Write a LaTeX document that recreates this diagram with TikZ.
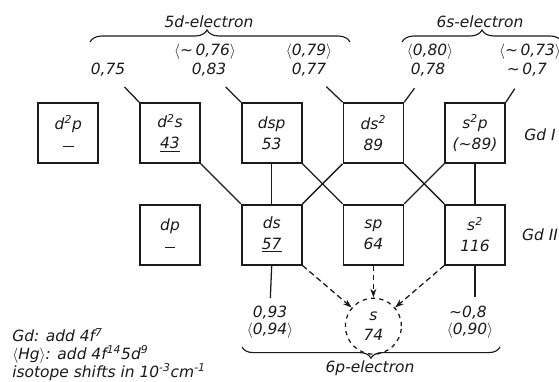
\documentclass[tikz,border=0pt]{standalone}
\usepackage{fontspec}
\setmainfont{DejaVu Sans}
\usetikzlibrary{arrows.meta, positioning, decorations.pathreplacing}
\definecolor{ink}{HTML}{1A1A1A}
\newcommand{\brk}[1]{\ensuremath{\langle}#1\ensuremath{\rangle}}
\newcommand{\til}{\textasciitilde}
\newcommand{\sq}{\textsuperscript{2}}
\newcommand{\nodash}{\rule[0.35ex]{0.26cm}{1pt}}

\begin{document}
\begin{tikzpicture}[
  >={Stealth[length=2.2mm, width=1.5mm]},
  font=\itshape\fontsize{11}{12}\selectfont,
  node distance=1cm,
  box/.style={draw=ink, line width=1.2pt, minimum width=1.5cm, minimum height=1.5cm,
    align=center, inner sep=1pt, text=ink, font=\itshape\fontsize{11}{15}\selectfont},
  circ/.style={draw=ink, circle, dashed, line width=0.9pt, minimum size=1.4cm,
    align=center, inner sep=1pt, text=ink, font=\itshape\fontsize{11}{14}\selectfont},
  val/.style={inner sep=0pt, text=ink},
  conn/.style={draw=ink, line width=0.9pt},
  flow/.style={conn, dash pattern=on 4pt off 2.5pt, ->},
  brc/.style={draw=ink, line width=0.8pt, decorate},
]

\useasboundingbox (0,0) rectangle (13.975,9.525);

% =============================================
% Gd I configurations
% =============================================
\node[box] (d2s) at (4.25,6.2) {d\sq s\\\underline{43}};
\node[box, left=of d2s] (d2p) {d\sq p\\\nodash};
\node[box, right=of d2s] (dsp) {dsp\\53};
\node[box, right=of dsp] (ds2) {ds\sq\\89};
\node[box, right=of ds2] (s2p) {s\sq p\\(\til89)};

% Gd II configurations
\node[box, below=of d2s] (dp) {dp\\\nodash};
\node[box, below=of dsp] (ds) {ds\\\underline{57}};
\node[box, below=of ds2] (sp) {sp\\64};
\node[box, below=of s2p] (s2) {s\sq\\116};

% Hg-like configuration
\node[circ, below=0.8cm of sp] (s) {s\\74};

\node[val] (gd1) at (13.5,6.15) {Gd \textrm{I}};
\node[val] (gd2) at (13.5,3.65) {Gd \textrm{II}};

% =============================================
% Top: values and braces
% =============================================
\node[val] (v075) at (2.7,7.775) {0,75};
\node[val] (v076) at (5.125,8.225) {\brk{\til\,0,76}};
\node[val] (v083) at (5.225,7.775) {0,83};
\node[val] (v079) at (7.725,8.225) {\brk{0,79}};
\node[val] (v077) at (7.725,7.775) {0,77};
\node[val] (v080) at (10.75,8.225) {\brk{0,80}};
\node[val] (v078) at (10.7,7.775) {0,78};
\node[val] (v073) at (13.25,8.225) {\brk{\til\,0,73}};
\node[val] (v07) at (13.175,7.775) {\til\,0,7};

\draw[brc, decoration={brace, amplitude=0.3cm, aspect=0.45}]
  (2.25,8.475) -- (8.75,8.475);
\node[val] (l5d) at (5.225,8.975) {5d-electron};
\draw[brc, decoration={brace, amplitude=0.3cm, aspect=0.5}]
  (10.05,8.475) -- (14.05,8.475);
\node[val] (l6s) at (12.0,8.975) {6s-electron};

\draw[conn, shorten >=0.35cm] (d2s.north west) -- (v075);
\draw[conn, shorten >=0.35cm] (dsp.north west) -- (v083);
\draw[conn, shorten >=0.35cm] (ds2.north west) -- (v077);
\draw[conn, shorten >=0.35cm] (ds2.north east) -- (v078);
\draw[conn, shorten >=0.35cm] (s2p.north east) -- (v07);

% =============================================
% Middle: links between the rows
% =============================================
\draw[conn] (d2s.south east) -- (ds.north west);
\draw[conn] (dsp.south) -- (ds.north);
\draw[conn] (dsp.south east) -- (sp.north west);
\draw[conn] (ds2.south west) -- (ds.north east);
\draw[conn] (ds2.south east) -- (s2.north west);
\draw[conn] (s2p.south west) -- (sp.north east);
\draw[conn] (s2p.south) -- (s2.north);

% =============================================
% Bottom: 6p values, arrows and brace
% =============================================
\node[val] (v093) at (6.75,1.7) {0,93};
\node[val] (v094) at (6.75,1.25) {\brk{0,94}};
\node[val] (v08) at (11.7,1.72) {\til0,8};
\node[val] (v090) at (11.75,1.25) {\brk{0,90}};

\draw[conn, shorten >=0.2cm] (ds.south) -- (v093.north);
\draw[conn, shorten >=0.2cm] (s2.south) -- (v08.north -| s2.south);

\draw[flow] (ds.south east) -- (s);
\draw[flow] (sp.south) -- (s);
\draw[flow] (s2.south west) -- (s);

\draw[brc, decoration={brace, mirror, amplitude=0.28cm, aspect=0.5}]
  (6.05,0.85) -- (12.5,0.85);
\node[val] (l6p) at (9.25,0.325) {6p-electron};

% notes
\node[val, anchor=base west] (gdnote) at (0.3,0.98) {Gd: add 4f\textsuperscript{7}};
\node[val, anchor=base west] (hgnote) at (0.3,0.54) {\brk{Hg}: add 4f\textsuperscript{14}5d\textsuperscript{9}};
\node[val, anchor=base west] (unit) at (0.3,0.1) {isotope shifts in 10\textsuperscript{-3}cm\textsuperscript{-1}};

\end{tikzpicture}
\end{document}
